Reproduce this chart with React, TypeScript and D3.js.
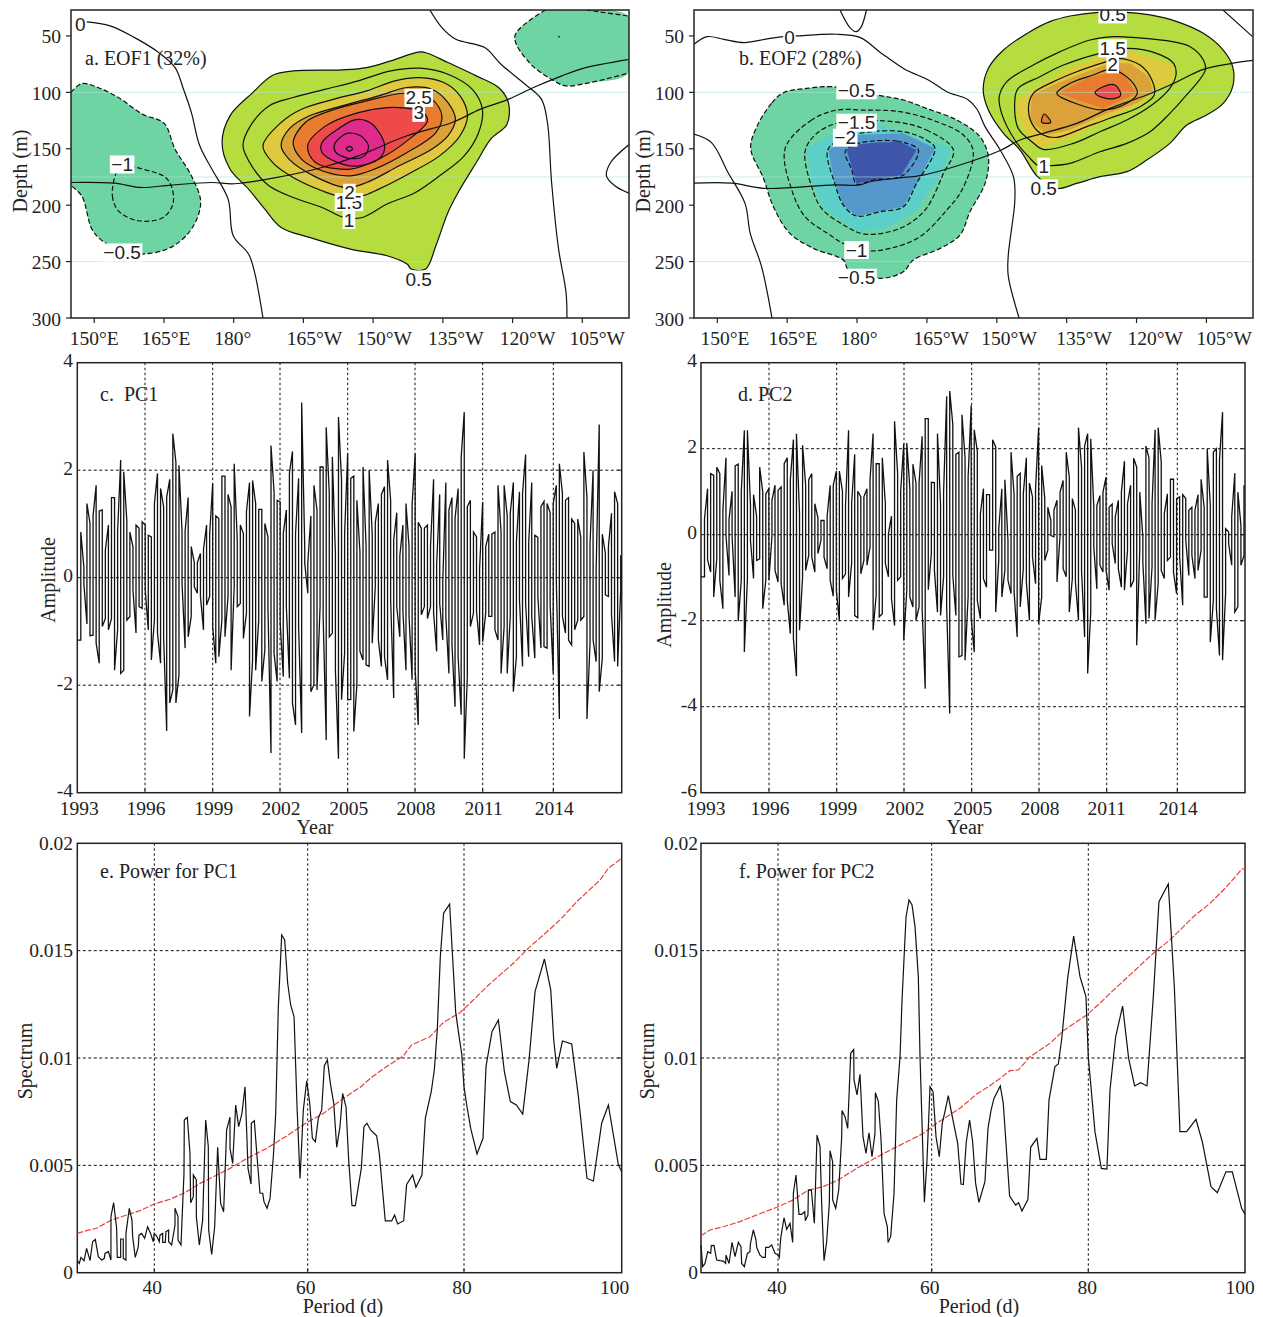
import React from 'react';
import * as d3 from 'd3';

type Pt = [number, number];

// ---------- EOF1 contours, [longitude east, depth m] ----------
const a05: Pt[] = [[220,64.2],[213.8,72.1],[208.6,78],[203.3,80],[192.8,81],[188.4,84.8],[184.1,100.2],[179.2,120.8],[177.5,144.5],[179.2,168],[183.2,185.8],[186.7,203.5],[190.2,219.7],[196.3,228.6],[205.1,238.9],[213,244.8],[217.3,252.2],[218.2,256.6],[221.3,256.6],[223.5,236],[226.1,206.4],[228.7,185.8],[232.2,162.2],[235.3,141.5],[238.8,128.2],[239.1,109],[237,95.7],[232.2,85.4],[226.1,73.6],[221.7,65.3]];
const a10: Pt[] = [[220,78.6],[213.8,81],[206.8,89.8],[199.8,97.2],[192.8,104.6],[187.6,112],[183.6,129.7],[182,147.4],[184.1,166.6],[187.6,182.8],[192.8,193.2],[199,202],[203.8,210.9],[207.7,210.9],[213,199],[219.1,188.7],[224.3,174],[229.6,156.3],[232.7,135.6],[233.5,114.9],[231.3,97.2],[226.1,83.9]];
const a15: Pt[] = [[220,86.9],[214.7,89.8],[208.6,98.7],[201.6,106],[194.6,114.9],[190.2,126.7],[186.3,147.4],[188.4,162.2],[192.8,175.4],[199,187.2],[202.5,191.7],[207.7,191.7],[211.2,185.8],[218.2,171],[224.3,156.3],[228.7,138.5],[230.3,120.8],[228.7,103.1],[225.2,91.3]];
const a20: Pt[] = [[217.3,95.7],[211.2,103.1],[203.3,112],[196.3,120.8],[191.9,132.6],[190.2,147.4],[191.9,159.2],[197.2,174],[204.2,184.3],[208.6,179.9],[215.6,165.1],[222.6,150.4],[226.1,138.5],[227.7,123.8],[226.1,109],[222.6,97.2]];
const a25: Pt[] = [[216.9,100.8],[208.6,107.6],[200.7,116.4],[195.4,126.7],[192.8,144.5],[194.6,159.2],[199,169.5],[205.1,174],[210.3,168],[217.3,153.3],[223.5,135.6],[224.8,120.8],[222.6,106]];
const a30: Pt[] = [[218.7,114.9],[213,113.5],[206.8,117.9],[199.8,129.7],[195.9,147.4],[197.6,162.2],[205.1,168],[211.2,159.2],[217.3,143],[221.7,125.3],[220.8,117.9]];
const a35: Pt[] = [[206,124.4],[208.6,125.3],[210.8,132.6],[212.5,148.9],[211.2,159.2],[206.8,165.1],[203.3,163.6],[199,153.3],[199,144.5],[203,131]];
const a40: Pt[] = [[204.6,136.2],[207.3,138.5],[209,147.4],[208.1,156.3],[205.1,158.6],[202,153.3],[201.6,147.4],[202.9,140]];
const a45: Pt[] = [[204.9,147.8],[205.6,150],[204.9,152.2],[204.2,150]];
const aNegLeft05: Pt[] = [[145,100.2],[147.3,92.2],[150.8,95.7],[155.2,104.6],[160.4,119.4],[165,127.3],[167.4,150.4],[170.9,174],[172.9,197.6],[170.9,221.2],[166.5,237.4],[160.4,243.3],[156,240.4],[151.7,231.5],[149.5,221.2],[147.3,191.7],[145,182.8]];
const aNegLeft10: Pt[] = [[154.7,171.6],[153.9,191.7],[155.2,205],[159.5,213.8],[164.8,210.9],[167,197.6],[165.7,176.9],[159.1,166.6],[156,163.6]];
const aNegRight05: Pt[] = [[247.1,27],[240.5,50],[243.6,73.6],[248.9,89.8],[251.5,94.3],[256.7,91.3],[264.8,83.1]];
const aNegRightTop: Pt[] = [[264.8,32.3],[255.9,27]];
const aNegDot: Pt = [250, 50.6];
const aZero: Pt[][] = [
  [[148.3,37.6],[153.4,41.1],[158.7,51.5],[163.9,64.8],[167.4,78],[169.2,97.2],[170.9,117.9],[172.7,147.4],[175.3,168],[178.8,194.6],[179.9,227.1],[183.2,243.3],[184.5,259.6],[186.3,300]],
  [[222.2,27],[224.8,42.6],[227.8,53],[234,60.3],[237.5,75.1],[242.7,92.8],[246.2,106],[247.5,126.7],[248.4,179.9],[249.9,238.9],[251.5,277.3],[251.7,300]],
  [[265,146.5],[261.1,162.2],[260.2,174],[262,182.8],[265,189.3]],
];
const aThermocline: Pt[] = [[145,179.9],[154.3,180.5],[160,184.3],[166.5,182.2],[175.3,179.9],[180.1,181],[189.3,175.4],[199,166.6],[206.8,156.3],[217.3,138.5],[227,126.7],[233.1,114.9],[239.2,106],[244.5,95.7],[250.6,85.4],[255,78.9],[264.8,71]];
const aLabels: [string, number, number][] = [['0',147,38.8],['−1',156,163],['−0.5',156,241],['0.5',219.8,264.9],['1',204.8,212.3],['1.5',204.8,196.4],['2',204.9,188.1],['2.5',219.8,104],['3',219.8,117.3]];

// ---------- EOF2 contours ----------
const bNeg05: Pt[] = [[163.9,100.3],[161.4,109.7],[158.3,130.4],[157,149.6],[159.7,176.2],[161.8,201.4],[165.3,225],[170.3,238.3],[176.6,248.6],[177.7,257.5],[184.4,264.9],[189.3,259],[191.4,248.6],[197.1,238.3],[201.3,226.5],[203.4,205.8],[206.6,180.7],[207.3,157],[205.5,139.3],[200.6,124.5],[194.2,114.2],[189.3,106.8],[183.7,102.4],[174.5,95],[168.8,96.5]];
const bNeg10: Pt[] = [[175.2,115.7],[169.9,124.5],[164.3,149.6],[165.7,186.6],[168.5,210.2],[173.8,226.5],[176.6,233.9],[181.5,240.4],[186.5,238.3],[192.8,228],[198.5,204.3],[201.7,186.6],[204.1,152.6],[202,137.8],[196.4,126],[188.6,117.1],[180.8,115.7]];
const bNeg15: Pt[] = [[187.2,126],[194.2,133.4],[199.9,151.1],[197.8,171.8],[193.9,204.3],[188.6,220.6],[181.2,225.6],[177.3,219.1],[172,202.8],[169.9,183.6],[168.5,152.6],[170.6,137.8],[175.2,127.5]];
const bNeg20: Pt[] = [[189.3,134.9],[194.2,142.3],[196,149.6],[192.1,180.7],[189.3,201.4],[184.4,205.8],[179.4,209.6],[176.6,199.9],[174.8,180.7],[173.2,152.6],[174.5,145.2],[180.1,136.3]];
const bNeg25: Pt[] = [[183,143.1],[187.9,143.1],[190,145.2],[192.5,151.1],[189.3,173.3],[183,177.7],[179.4,181.3],[178.4,168.8],[177,152.6],[178.7,146.7]];
const bTealArea: Pt[] = [[168.8,149.6],[173.8,137.8],[183.7,127.5],[190.7,137.8],[199.5,149.6],[197.1,173.3],[192.1,204.3],[185.8,220.6],[179.4,223.5],[172.4,202.8],[169.9,177.7]];
const bBlueArea: Pt[] = [[173.4,151.1],[179.4,137.8],[189.3,136.3],[196,149.6],[192.1,180.7],[189.3,201.4],[179.4,209.6],[176.6,199.9],[174.8,180.7]];
const bNavyArea: Pt[] = [[177.3,151.1],[178.7,146.7],[183,144.6],[188.6,143.7],[192.1,151.1],[188.9,173.3],[179.4,180.7]];
const b05: Pt[] = [[230.6,29.1],[224.6,32.3],[220.3,37.3],[216.1,46.2],[210.5,62.5],[207.3,78.7],[206.2,97.9],[207.3,115.6],[210.5,136.3],[214,151.1],[217.7,174.7],[221.8,185.1],[226,180.7],[230.9,174.7],[236.6,170.3],[240.8,160],[245.7,145.2],[249.3,129],[253.5,120.1],[257,109.7],[259,95],[259,77.2],[257,62.5],[252.8,47.7],[247.2,37.3],[241.5,31.4],[236.6,29.1]];
const b10: Pt[] = [[233.8,50.6],[228.8,53.6],[222.5,63.9],[216.8,75.8],[211.2,90.5],[209.6,103.8],[210.1,118.6],[212.9,142.2],[215.8,157],[217.9,165],[220.3,165],[224.6,162.9],[230.9,152.6],[236.6,145.2],[241.5,134.9],[245.7,118.6],[248.6,105.3],[253.2,80.2],[252.8,71.3],[250,59.5],[245,54.2],[238.7,51.5]];
const b15: Pt[] = [[236.6,61],[242.9,65.4],[246.5,74.3],[247,84.6],[245.7,96.4],[241.9,111.2],[236.6,124.5],[230.9,134.9],[225.3,145.2],[218.9,150.5],[216.5,143.7],[213.6,131.9],[212.9,106.8],[213.6,96.4],[218.2,86.1],[223.2,75.8],[230.9,65.4]];
const b20: Pt[] = [[234.8,69.8],[239.4,75.8],[241.9,89],[242.4,102.4],[239.4,112.7],[233,123],[228.1,130.4],[221.8,139.9],[218.9,137.8],[216.5,127.5],[215.8,112.7],[216.8,100.9],[221.1,90.5],[226,81.7],[232.3,72.8]];
const b25: Pt[] = [[233.4,79.6],[237.3,89],[238.8,100.9],[236.6,109.7],[231.6,115.6],[226.7,111.2],[221.8,100.9],[224.6,92],[229.5,84.6]];
const b25Small: Pt[] = [[219.1,119.2],[220.5,126.6],[218.6,126.6]];
const b30: Pt[] = [[229.9,100.3],[231.6,95],[234.1,93.5],[235.3,102.4],[234.1,105.3],[231.6,104.7]];
const bYellowArea: Pt[] = [[232.3,66.9],[236.6,62.5],[246.5,75.8],[246.5,89],[242.9,97.9],[239.4,109.7],[230.9,127.5],[224.6,140.8],[218.2,149.6],[216.1,142.2],[213.3,120.1],[213.3,106.8],[218.2,93.5],[225.3,77.2]];
const bOchreArea: Pt[] = [[216.5,102.4],[221.8,92],[228.1,81.7],[233,74.3],[237.3,74.3],[241.2,86.1],[242.2,99.4],[238.7,109.7],[231.6,120.1],[224.6,133.4],[219.6,137.8],[216.1,124.5]];
const bOrangeArea: Pt[] = [[222.1,100.9],[228.1,87.6],[235.2,80.2],[238.7,100.9],[231.6,114.2]];
const bZero: Pt[][] = [
  [[145,57.4],[147.8,50.6],[151.3,53],[155.6,55.9],[160.8,52.4],[163.9,50.6],[166.7,50],[175,48.5],[180.2,51.5],[184.5,64.8],[189.6,79.5],[194.6,89],[198.5,99.4],[203,106.5],[204.9,115],[206.6,130.4],[209.8,151.1],[212.6,174.7],[212.9,195.4],[211.5,244.8],[211.5,262.5],[213.8,300]],
  [[145,137],[148.7,144.5],[152.2,171],[155.8,198.4],[156.9,225],[159.3,254.5],[161.5,300]],
  [[175.9,27],[178,42.6],[179.3,46.2],[180.3,42.6],[181.5,27]],
  [[256.7,26.1],[263.2,50.6]],
];
const bThermocline: Pt[] = [[145,180.5],[153,180.5],[160,185.1],[174.7,182],[180.1,182.1],[182.3,179.2],[188,176],[193.5,173.3],[203.4,161.5],[209.8,151.6],[214,142.2],[218.9,136.3],[226,127.5],[233,114.2],[240.8,102.4],[246.5,92],[252.8,79.6],[258.8,74.3],[263.3,71.6]];
const bLabels: [string, number, number][] = [['0',165.2,50.6],['−0.5',179.4,97.3],['−1.5',179.4,126],['−2',177,139.3],['−1',179.4,238.9],['−0.5',179.4,263.4],['0.5',233.6,30],['1.5',233.6,60.1],['2',233.6,74.3],['1',219,165],['0.5',219,184.2]];

const lonTicks = [150, 165, 180, 195, 210, 225, 240, 255];
const lonTickLabels = ['150°E', '165°E', '180°', '165°W', '150°W', '135°W', '120°W', '105°W'];
const depthTicks = [50, 100, 150, 200, 250, 300];
const faintDepths = [100, 175, 250];

// ---------- principal components: upper and lower end of every swing ----------
const pc1High = [.85,.2,1.38,1.01,1.15,1.72,1.24,1.26,.51,.98,1.49,1.49,.85,2.19,1.97,1.07,.85,.58,.98,.92,1.04,.98,.79,.76,1.38,1.94,1.66,1.32,1.5,1.83,2.68,2.15,2.09,.87,.87,1.49,.58,.28,.28,.45,.53,.98,.8,1.75,1.15,1.1,1.89,1.89,1.55,1.32,2.12,.7,.98,.82,1.23,1.77,1.81,1.38,1.27,1.27,1.01,.76,2.46,1.6,1.44,1.41,.82,1.26,1.94,2.35,.82,1.85,3.26,.58,.27,1.15,1.72,1.26,2.06,2.06,2.8,1.57,2.25,.45,2.99,1.81,.82,2.31,
  1.85,1.89,1.44,.48,2.06,.58,2,.82,1.03,1.38,1.55,1.69,2.19,1.44,.7,1.21,.41,.98,1.38,.58,1.35,2.31,1.03,.92,.92,.98,.58,1.83,.24,1.55,-.07,1.77,1.26,1.49,1.1,1.66,2.24,3.08,1.32,1.44,.85,.76,.17,1.41,.58,.81,.81,.85,1.72,.85,1.72,1.15,1.2,1.77,.67,1.6,1.57,2.29,.64,1.77,.79,.75,1.32,1.42,1.38,1.21,1.38,1.72,2.12,1.57,1.44,1.49,1.09,1.01,1.09,.75,2.34,1.49,.64,2,.17,2.85,.81,.45,.58,1.2,1.6,1.38,.42];
const pc1Low = [-1.16,-.11,-.86,-1.08,-1.07,-1.22,-1.59,-.91,-.76,-.97,-.76,-1.72,-.97,-1.78,-1.72,-.79,-.72,-.23,-1.03,-.54,-.57,-.23,-.97,-1.53,-.79,-1.03,-1.59,-1.1,-2.85,-2.33,-2.09,-2.33,-1.81,-.11,-1.31,-1.1,-.72,-.17,-.29,-.35,-.97,-.51,-.35,-.91,-1.59,-1.47,-.79,-1.1,-.35,-1.72,-.17,-.54,-.48,-1.13,-.66,-2.58,-1.53,-1.72,-.79,-1.93,-1.34,-.54,-3.26,-1.41,-1.93,-.85,-1.84,-.54,-1.87,-2.33,-2.74,-.91,-2.89,.27,-.29,-2.12,-1.99,-2.09,-.54,-.72,-3.02,-1.1,-1.03,-1.72,-3.37,-2.27,-1.41,-2.27,
  -2.27,-2.86,-1.99,-1.37,-1.53,-1.62,-1.65,-1.22,-.17,-1.16,-1.65,-1.47,-1.9,-.41,-2.24,-.54,-1.1,-.63,-1.72,-.72,-1.9,-1.72,-2.74,-.69,-.54,-.76,-.54,-.66,-1.37,-.48,-1.16,-.72,-1.78,-1.25,-2.4,-1.47,-2.55,-3.37,-1.84,-.91,-.66,-.63,-1.25,-1.19,-.66,-.72,-.72,-.97,-1.16,-1.78,-.91,-1.78,-.72,-2.12,-1.47,-.41,-1.65,-.48,-1.47,-.72,-1.5,-.35,-1.31,-1.28,-1.31,-.51,-1.78,-.04,-2.63,-.72,-1.03,-1.16,-1.25,-.97,-.79,-.79,-.72,-2.63,-1.22,-1.16,-1.56,-2.12,-1.5,-.32,-.35,-.69,-1.56,-1.65,-.23];
const pc2High = [.37,1.07,1.42,1.38,1.57,1.42,.57,1.79,.35,1.01,1.6,1.64,1.01,2.43,2.43,.68,.93,.43,1.57,.99,.95,1.07,.8,1.15,1.03,1.11,1.65,1.79,1.28,2.21,2.35,.49,2.08,1.15,1.28,1.42,.72,.39,.33,.33,.43,1.15,1.15,1.48,1.48,1.01,.68,2.43,.72,1.87,1.01,.88,.88,1.07,1.28,2.35,1.65,1.65,1.79,.72,.02,.43,2.64,1.43,1.01,2.12,2.13,1.07,1.64,1.2,1.2,2.29,2.7,2.7,1.22,1.21,2.35,.72,.99,3.22,3.34,2.57,1.87,1.92,2.79,1.79,1.34,3.01,2.44,1.94,.49,1.07,.93,.93,
  2.21,2.04,.14,1.07,1.28,-.13,1.92,.93,1.36,1.43,.95,1.79,1.2,.88,1.07,2.49,1.61,.85,.64,.33,.57,.8,.99,1.26,1.92,1.34,.84,.57,2.49,1.57,2.06,2.35,2.23,.64,.68,.91,.99,1.34,.64,.71,.41,.8,.99,1.71,.72,1.15,1.78,1.57,.99,-.05,2.06,1.79,.72,2.44,2.49,1.69,.49,.95,1.29,1.29,.84,.88,.93,.84,.57,.64,.57,.93,1.29,.64,2,.68,1.92,2,1.73,2.85,.14,.06,.43,1.43,.99,.22,1.15];
const pc2Low = [-.98,-.58,-.87,-1.45,-.56,-1.06,-1.72,-.02,-.95,-.05,-1.45,-2.01,-1.06,-2.73,-1.02,-.13,-1.02,-.6,-.56,-1.72,-1.06,-1.06,-.05,-.83,-1.1,-1.14,-1.64,-1.53,-2.3,-2.42,-3.29,-2.22,-.98,-.83,-.48,-.52,-.87,-.44,-.13,-.52,-.79,-1.06,-1.43,-1.29,-2.01,-1.02,-.91,-1.45,-.67,-1.88,-1.93,-.91,-.6,-.71,-.29,-2.22,-1.41,-1.91,-1.84,-.67,-.98,-1.49,-2.11,-1.06,-.98,-2.46,-1.28,-1.45,-1.68,-1.99,-1.68,-1.72,-3.58,-1.28,-.44,-.83,-1.8,-1.88,-.98,-1.68,-4.16,-.95,-1.88,-2.84,-2.81,-2.92,-1.45,-1.95,-2.73,-1.53,-1.95,-1.02,-1.22,-.36,
  -.36,-1.8,-.6,-1.45,-.83,-1.06,-1.37,-1.33,-2.38,-1.68,-.79,-1.1,-1.99,-.52,-1.14,-2.07,-1.45,-.6,-.36,-.02,-.05,-1.1,-.02,-.79,-.98,-1.8,-1.02,-1.1,-1.99,-.83,-2.38,-3.23,-1.8,-.29,-1.26,-.71,-.87,-.83,-1.29,-.21,-.67,-.79,-1.22,-1.29,-.36,-1.22,-1.06,-2.57,-.36,-.64,-2.07,-1.95,-.75,-1.99,-1.14,-.83,-1.02,-.6,-.52,-.87,-1.37,-.52,-1.64,-.13,-.95,-.48,-1.02,-.83,-.36,-1.45,-1.45,-2.5,-1.53,-1.72,-2.81,-2.92,-1.37,-.21,-.71,-1.8,-1.68,-.71,-.48];
const yearTicks = [1993, 1996, 1999, 2002, 2005, 2008, 2011, 2014];
const pc1Ticks = [4, 2, 0, -2, -4];
const pc2Ticks = [4, 2, 0, -2, -4, -6];

// ---------- power spectra, [period d, power] ----------
const powerPc1: Pt[] = [[30,.00056],[30.26,.00043],[30.48,.00071],[30.87,.00056],[31.21,.00113],[31.65,.00056],[31.99,.00144],[32.34,.00155],[32.73,.00075],[33.16,.00059],[33.51,.00067],[33.59,.0009],[34.03,.00098],[34.37,.00059],[34.37,.00261],[34.72,.00326],[35.11,.00207],[35.19,.00071],[35.63,.00071],[35.63,.00157],[35.97,.00157],[35.97,.00067],[36.32,.00059],[36.32,.00183],[36.75,.003],[37.1,.00245],[37.19,.00168],[37.53,.00071],[37.92,.00121],[38.01,.00175],[38.35,.00183],[38.74,.0016],[39.13,.00214],[39.52,.00183],[39.87,.00144],[40,.00183],[40.3,.00171],[40.65,.00144],[40.74,.00175],[41.09,.00183],[41.09,.00141],[41.43,.00141],[41.52,.00191],[41.87,.00199],[41.87,.00144],[42.26,.00129],[42.7,.00222],[42.7,.003],[43.09,.00261],[43.09,.00152],[43.48,.00129],[43.87,.00463],[43.91,.00711],[44.3,.00724],[44.65,.00556],[44.74,.00326],[45.09,.00354],[45.09,.00455],[45.48,.00432],[45.48,.00261],[45.87,.00129],[46.3,.00245],[46.7,.00711],[47.04,.00587],[47.09,.00199],[47.48,.00085],[47.87,.00214],[48.26,.00584],[48.65,.00323],[49.04,.00284],[49.43,.00665],[49.87,.00724],[49.87,.00579],[50.22,.00509],[50.61,.00781],[51,.0068],[51.43,.00742],[51.83,.00866],[52.22,.00486],[52.61,.00413],[52.65,.00696],[53.04,.00708],[53.43,.00525],[53.78,.0037],[54.13,.0037],[54.3,.00331],[54.7,.003],[55.09,.00346],[55.52,.0054],[55.83,.00742],[56.17,.01239],[56.61,.01573],[57,.0155],[57.39,.01348],[57.78,.01247],[58.22,.01193],[58.61,.00773],[59,.00439],[59.43,.00758],[59.87,.00894],[60.26,.00789],[60.6,.00626],[60.98,.0061],[61.36,.00719],[61.79,.00758],[62.13,.00964],[62.52,.00991],[62.9,.00882],[63.33,.00789],[63.71,.00584],[64.13,.0068],[64.47,.00835],[64.9,.00773],[65.24,.00525],[65.67,.00312],[66.09,.00312],[66.48,.00401],[66.86,.00486],[67.2,.0068],[67.58,.00696],[68.05,.00665],[68.82,.00638],[69.16,.00556],[69.93,.00241],[70.74,.00241],[71.12,.00269],[71.51,.00227],[72.28,.00242],[72.66,.00411],[73.43,.00455],[73.85,.00398],[74.62,.00455],[75.05,.00719],[75.81,.00843],[76.2,.00944],[76.58,.0113],[76.97,.01472],[77.39,.01674],[78.16,.01717],[78.54,.01472],[78.93,.01216],[79.31,.01115],[79.7,.01022],[80,.00866],[80.38,.00773],[80.85,.00672],[81.65,.00553],[82.41,.00626],[82.79,.0096],[83.55,.01123],[84.36,.01177],[85.12,.00936],[85.88,.00797],[86.64,.00781],[87.45,.00739],[88.25,.00991],[89.01,.01309],[90.2,.01461],[91,.01317],[91.38,.01084],[91.76,.00952],[92.48,.01079],[93.66,.01065],[94.51,.0082],[95.6,.00439],[96.41,.00427],[97.46,.00696],[98.31,.00781],[99.58,.00502],[100,.0047]];
const signifPc1: Pt[] = [[30,.00183],[31.21,.00196],[32.51,.00207],[34.24,.00242],[36.41,.00269],[38.14,.00289],[40,.0032],[42.04,.00342],[44,.00373],[45.96,.00416],[47.7,.00447],[49.87,.00486],[52.48,.0054],[54.65,.00579],[57.26,.00637],[59.87,.00699],[62.01,.00742],[64.56,.00812],[66.69,.00863],[68.18,.0091],[70.1,.0096],[72.23,.01009],[73.3,.01061],[75.64,.01099],[77.35,.01165],[79.48,.01211],[81.18,.0127],[82.87,.01332],[84.57,.01387],[86.26,.01441],[88.37,.01519],[90.07,.01573],[92.18,.01643],[94.3,.01728],[97.26,.01829],[98.32,.01884],[100,.0193]];
const powerPc2: Pt[] = [[30,.00129],[30.22,.00028],[30.52,.00043],[30.87,.00098],[31.26,.0009],[31.34,.00126],[31.69,.00127],[32.03,.00059],[32.47,.00056],[32.9,.00054],[33.2,.00043],[33.25,.00082],[33.64,.00043],[34.03,.00141],[34.42,.00075],[34.85,.00141],[35.19,.00121],[35.28,.00043],[35.63,.00028],[36.02,.0009],[36.36,.00098],[36.41,.00134],[36.8,.00199],[37.14,.00152],[37.23,.00118],[37.66,.00082],[38.01,.00071],[38.35,.00071],[38.4,.00118],[38.79,.00118],[39.18,.00129],[39.61,.0009],[40,.00082],[40.17,.0007],[40.35,.0016],[40.78,.00256],[41.13,.00202],[41.56,.0023],[41.91,.00141],[42,.0037],[42.34,.00455],[42.73,.00272],[43.08,.00272],[43.47,.00284],[43.56,.00242],[43.9,.00269],[43.95,.00385],[44.34,.00385],[44.73,.0023],[45.08,.00641],[45.47,.00587],[45.68,.00323],[45.99,.00056],[46.33,.00144],[46.68,.00323],[46.77,.00568],[47.11,.00517],[47.11,.00339],[47.51,.003],[47.9,.00385],[48.29,.00634],[48.33,.00755],[48.72,.00727],[49.07,.00672],[49.46,.01022],[49.85,.0104],[49.89,.00898],[50.28,.00828],[50.67,.00924],[51.06,.00634],[51.45,.00556],[51.84,.00652],[52.23,.0054],[52.62,.00649],[52.67,.00839],[53.06,.00797],[53.41,.00618],[53.8,.00276],[54.23,.00214],[54.32,.00141],[54.66,.00168],[55.1,.0037],[55.44,.00804],[55.88,.01006],[56.14,.0127],[56.66,.01658],[57.05,.01736],[57.44,.01713],[57.83,.01612],[58.26,.01379],[58.48,.01006],[59.05,.00328],[59.39,.00525],[59.78,.00866],[60.17,.00843],[60.55,.00634],[60.97,.0054],[61.35,.00696],[61.74,.00758],[62.12,.00825],[62.5,.0075],[63.32,.00602],[63.74,.00413],[64.04,.00411],[64.42,.0061],[64.84,.00711],[65.23,.0061],[65.61,.00416],[66.04,.00328],[66.8,.00424],[67.19,.00672],[67.57,.00755],[67.95,.00812],[68.76,.0087],[69.14,.00789],[69.95,.00357],[70.72,.00315],[71.1,.00326],[71.53,.00287],[72.29,.00342],[72.64,.00584],[73.44,.00626],[73.83,.00528],[74.64,.00528],[74.98,.00804],[75.74,.0096],[76.17,.00972],[76.59,.01084],[77.36,.01371],[78.13,.01568],[78.94,.01379],[79.7,.01286],[80,.01006],[80.85,.00657],[81.66,.00486],[82.38,.00483],[82.77,.00851],[83.49,.01099],[84.38,.01242],[85.15,.00998],[85.91,.0087],[86.68,.00885],[87.49,.0087],[88.3,.01286],[89.02,.01728],[90.21,.01811],[90.98,.01332],[91.7,.00657],[92.55,.00657],[93.74,.00714],[94.55,.0061],[95.66,.00401],[96.47,.00373],[97.57,.0047],[98.38,.0047],[99.57,.003],[100,.00273]];
const signifPc2: Pt[] = [[30,.00172],[31.17,.00199],[32.9,.00214],[35.06,.00238],[37.23,.00269],[40,.00307],[42,.00339],[43.95,.00385],[45.9,.00401],[47.85,.00432],[50.24,.00486],[52.62,.00533],[54.58,.00571],[56.75,.0061],[58.92,.00649],[60.64,.00696],[63.61,.00766],[65.74,.00832],[67.23,.00866],[68.72,.00905],[70,.00941],[71.06,.00944],[72.55,.01006],[75.1,.01068],[76.81,.01127],[79.79,.012],[81.49,.01255],[82.77,.01301],[85.32,.01387],[88.3,.01488],[90.43,.0155],[93.4,.01658],[95.53,.0172],[97.66,.01798],[99.57,.01879],[100,.01882]];
const periodTicks = [40, 60, 80, 100];
const powerTicks = [0.02, 0.015, 0.01, 0.005, 0];
const powerTickLabels = ['0.02', '0.015', '0.01', '0.005', '0'];

const serif = '"Liberation Serif","Times New Roman",serif';
const sans = '"Liberation Sans",Arial,sans-serif';
const lime = '#b5dd3f';
const yellow = '#dfc93f';
const ochre = '#dca23a';
const orange = '#ea7c30';
const red = '#ef4a4a';
const magenta = '#df2c8c';
const green = '#6fd4a3';
const teal = '#5ccfc9';
const blue = '#5599cc';
const navy = '#3f57ab';
const dashes = '5 2.5';

function Txt({ x, y, children, anchor = 'middle', rotate, size = 19.5 }: any) {
  return (
    <text x={x} y={y} textAnchor={anchor} dominantBaseline="central" fontFamily={serif} fontSize={size} fill="#222"
      style={{ whiteSpace: 'pre' }}
      transform={rotate ? `rotate(${rotate},${x},${y})` : undefined}>{children}</text>
  );
}

function labelWidth(s: string) {
  let w = 0;
  for (const c of s) w += c === '.' ? 5.3 : c === '−' ? 12 : 10.6;
  return w + 2;
}

function EofPanel({ id, left, right, lonMax, axisMax, lonDx, title, titleX, depthLabelX, tickLabelX, fills, open, dashed, solid, labels, dot }: any) {
  const x = d3.scaleLinear().domain([145, lonMax]).range([left, right]);
  const xAxis = d3.scaleLinear().domain([145, axisMax]).range([left, right]);
  const y = d3.scaleLinear().domain([27, 300]).range([10, 318]);
  const closed = d3.line<Pt>().x(d => x(d[0])).y(d => y(d[1])).curve(d3.curveCatmullRomClosed.alpha(0.5));
  const line = d3.line<Pt>().x(d => x(d[0])).y(d => y(d[1])).curve(d3.curveCatmullRom.alpha(0.5));
  const poly = d3.line<Pt>().x(d => x(d[0])).y(d => y(d[1])).curve(d3.curveLinearClosed);
  return (
    <g>
      <clipPath id={id}><rect x={left} y={10} width={right - left} height={308} /></clipPath>
      <g clipPath={`url(#${id})`}>
        {open.map((o: any, i: number) => <path key={i} d={line(o.pts) + 'Z'} fill={o.color} />)}
        {fills.map((f: any, i: number) => f.color ? <path key={i} d={(f.area ? poly(f.pts) : closed(f.pts)) || ''} fill={f.color} /> : null)}
        {faintDepths.map(d => <line key={d} x1={left} x2={right} y1={y(d)} y2={y(d)} stroke="#a9e4d8" strokeOpacity={0.6} strokeWidth={1} />)}
        {dashed.map((pts: Pt[], i: number) => <path key={i} d={line(pts) || ''} fill="none" stroke="#111" strokeWidth={1.2} strokeDasharray={dashes} />)}
        {fills.map((f: any, i: number) => f.area ? null :
          <path key={i} d={closed(f.pts) || ''} fill="none" stroke="#111" strokeWidth={1.2} strokeDasharray={f.dash ? dashes : undefined} />)}
        {solid.map((pts: Pt[], i: number) => <path key={i} d={line(pts) || ''} fill="none" stroke="#111" strokeWidth={1.2} />)}
        {dot && <circle cx={x(dot[0])} cy={y(dot[1])} r={0.9} fill="#222" />}
        {labels.map((l: any, i: number) => {
          const w = labelWidth(l[0]);
          return (
            <g key={i}>
              <rect x={x(l[1]) - w / 2} y={y(l[2]) - 8} width={w} height={18} fill="#fff" />
              <text x={x(l[1])} y={y(l[2]) + 1} textAnchor="middle" dominantBaseline="central" fontFamily={sans} fontSize={19} fill="#222">{l[0]}</text>
            </g>
          );
        })}
      </g>
      <rect x={left} y={10} width={right - left} height={308} fill="none" stroke="#222" strokeWidth={1.5} />
      {lonTicks.map((t, i) => (
        <g key={t}>
          <line x1={xAxis(t)} x2={xAxis(t)} y1={318} y2={323} stroke="#222" strokeWidth={1.2} />
          <Txt x={xAxis(t) + lonDx[i]} y={338}>{lonTickLabels[i]}</Txt>
        </g>
      ))}
      {depthTicks.map(t => (
        <g key={t}>
          <line x1={left - 5} x2={left} y1={y(t)} y2={y(t)} stroke="#222" strokeWidth={1.2} />
          <Txt x={tickLabelX} y={y(t) + 1} anchor="end">{t}</Txt>
        </g>
      ))}
      <Txt x={depthLabelX} y={171} rotate={-90} size={20}>Depth (m)</Txt>
      <Txt x={titleX} y={58} anchor="start" size={20}>{title}</Txt>
    </g>
  );
}

function GridFrame({ left, right, top, bottom, xs, ys }: any) {
  return (
    <g>
      {ys.map((v: number) => <line key={'h' + v} x1={left} x2={right} y1={v} y2={v} stroke="#111" strokeWidth={1} strokeDasharray="3 2.5" />)}
      {xs.map((v: number) => <line key={'v' + v} x1={v} x2={v} y1={top} y2={bottom} stroke="#111" strokeWidth={1} strokeDasharray="2.5 2.5" />)}
      <rect x={left} y={top} width={right - left} height={bottom - top} fill="none" stroke="#222" strokeWidth={1.5} />
      {xs.map((v: number) => <line key={'t' + v} x1={v} x2={v} y1={bottom - 4} y2={bottom} stroke="#222" strokeWidth={1.1} />)}
      {ys.map((v: number) => <line key={'r' + v} x1={right - 4} x2={right} y1={v} y2={v} stroke="#222" strokeWidth={1.1} />)}
    </g>
  );
}

function PcPanel({ left, right, tickPx, high, low, domain, ticks, title, titleX, tickEnd, yTitleX, yTitleY, yearX, labelDx }: any) {
  const top = 362.7;
  const bottom = 792.7;
  const y = d3.scaleLinear().domain(domain).range([bottom, top]);
  const yearScale = d3.scaleLinear().domain([...yearTicks, 2017]).range([...tickPx, right]);
  const n = high.length;
  const sampleX = d3.scaleLinear().domain([0, n - 1]).range([left + 3.5, right - 1]);
  const pts: Pt[] = [[left, y(low[0])]];
  high.forEach((h: number, i: number) => {
    const a = i % 2 === 0 ? low[i] : h;
    const b = i % 2 === 0 ? h : low[i];
    pts.push([sampleX(i), y(a)], [sampleX(i), y(b)]);
  });
  const line = d3.line<Pt>();
  return (
    <g>
      <GridFrame left={left} right={right} top={top} bottom={bottom} xs={yearTicks.slice(1).map(t => yearScale(t))} ys={ticks.slice(1, -1).map((t: number) => y(t))} />
      <path d={line(pts) || ''} fill="none" stroke="#111" strokeWidth={1.3} />
      {ticks.map((t: number) => <Txt key={t} x={tickEnd} y={y(t) - 2} anchor="end">{t}</Txt>)}
      {yearTicks.map((t, i) => <Txt key={t} x={yearScale(t) + labelDx[i]} y={808}>{t}</Txt>)}
      <Txt x={yearX} y={827} size={20}>Year</Txt>
      <Txt x={yTitleX} y={yTitleY} rotate={-90} size={20}>Amplitude</Txt>
      <Txt x={titleX} y={394} anchor="start" size={20}>{title}</Txt>
    </g>
  );
}

function PowerPanel({ left, right, tickPx, power, signif, title, titleX, tickEnd, yTitleX, periodX, labelDx }: any) {
  const top = 843.3;
  const bottom = 1272.7;
  const x = d3.scaleLinear().domain([30, ...periodTicks]).range([left, ...tickPx]);
  const y = d3.scaleLinear().domain([0, 0.02]).range([bottom, top]);
  const line = d3.line<Pt>().x(d => x(d[0])).y(d => y(d[1]));
  return (
    <g>
      <GridFrame left={left} right={right} top={top} bottom={bottom} xs={periodTicks.slice(0, -1).map(t => x(t))} ys={powerTicks.slice(1, -1).map(t => y(t))} />
      <path d={line(signif) || ''} fill="none" stroke="#e8413a" strokeWidth={1.2} strokeDasharray="6 1.8" />
      <path d={line(power) || ''} fill="none" stroke="#111" strokeWidth={1.2} />
      {powerTicks.map((t, i) => <Txt key={t} x={tickEnd} y={y(t)} anchor="end">{powerTickLabels[i]}</Txt>)}
      {periodTicks.map((t, i) => <Txt key={t} x={x(t) + labelDx[i]} y={1287}>{t}</Txt>)}
      <Txt x={periodX} y={1306} size={20}>Period (d)</Txt>
      <Txt x={yTitleX} y={1061} rotate={-90} size={20}>Spectrum</Txt>
      <Txt x={titleX} y={871} anchor="start" size={20}>{title}</Txt>
    </g>
  );
}

export default function App() {
  const aFills = [
    { pts: a05, color: lime }, { pts: a15, color: yellow }, { pts: a20, color: ochre },
    { pts: a25, color: orange }, { pts: a30, color: red }, { pts: a35, color: magenta },
    { pts: a10 }, { pts: a40 }, { pts: a45 },
    { pts: aNegLeft10, dash: true },
  ];
  const bFills = [
    { pts: bNeg05, color: green, dash: true },
    { pts: bTealArea, color: teal, area: true }, { pts: bBlueArea, color: blue, area: true }, { pts: bNavyArea, color: navy, area: true },
    { pts: bNeg10, dash: true }, { pts: bNeg15, dash: true }, { pts: bNeg20, dash: true }, { pts: bNeg25, dash: true },
    { pts: b05, color: lime },
    { pts: bYellowArea, color: yellow, area: true }, { pts: bOchreArea, color: ochre, area: true }, { pts: bOrangeArea, color: orange, area: true },
    { pts: b10 }, { pts: b15 }, { pts: b20 }, { pts: b25 },
    { pts: b25Small, color: orange }, { pts: b30, color: red },
  ];
  return (
    <svg width={1263} height={1317} style={{ position: 'absolute', left: 0, top: 0, background: '#fff' }}>
      <EofPanel id="clipA" left={71} right={629} lonMax={265.05} axisMax={265.05} lonDx={[0, 2, -1, 11, 11, 13, 15, 15]}
        title="a. EOF1 (32%)" titleX={85} depthLabelX={20} tickLabelX={61}
        fills={aFills}
        open={[{ pts: aNegLeft05, color: green }, { pts: [...aNegRight05, ...aNegRightTop], color: green }]}
        dashed={[aNegLeft05, aNegRight05, aNegRightTop]}
        solid={[...aZero, aThermocline]} labels={aLabels} dot={aNegDot} />
      <EofPanel id="clipB" left={694} right={1253} lonMax={263.3} axisMax={265} lonDx={[7.7, 5.8, 2, 14.2, 12.3, 17.4, 18.6, 17.7]}
        title="b. EOF2 (28%)" titleX={739} depthLabelX={643} tickLabelX={684}
        fills={bFills} open={[]} dashed={[]} solid={[...bZero, bThermocline]} labels={bLabels} />
      <PcPanel left={77.3} right={621.7} tickPx={[77.3, 145, 212.7, 280, 347.7, 415, 482.7, 553.3]}
        high={pc1High} low={pc1Low} domain={[-4, 4]} ticks={pc1Ticks}
        title="c.  PC1" titleX={100} tickEnd={73} yTitleX={48} yTitleY={580} yearX={315} labelDx={[2, 1, 1, 1, 1, 1, 1, 1]} />
      <PcPanel left={701} right={1245} tickPx={[701, 769, 836.7, 904, 971.7, 1039, 1106.7, 1177.3]}
        high={pc2High} low={pc2Low} domain={[-6, 4]} ticks={pc2Ticks}
        title="d. PC2" titleX={738} tickEnd={697} yTitleX={664} yTitleY={605} yearX={965} labelDx={[5, 1, 1, 1, 1, 1, 0, 1]} />
      <PowerPanel left={77.3} right={621.7} tickPx={[154.3, 307.7, 464, 621.7]} power={powerPc1} signif={signifPc1}
        title="e. Power for PC1" titleX={100} tickEnd={73} yTitleX={25} periodX={343} labelDx={[-2, -2, -2, -7]} />
      <PowerPanel left={701} right={1245} tickPx={[778, 931.7, 1088.3, 1245]} power={powerPc2} signif={signifPc2}
        title="f. Power for PC2" titleX={739} tickEnd={698} yTitleX={647} periodX={979} labelDx={[-1, -2, -1, -5]} />
    </svg>
  );
}
